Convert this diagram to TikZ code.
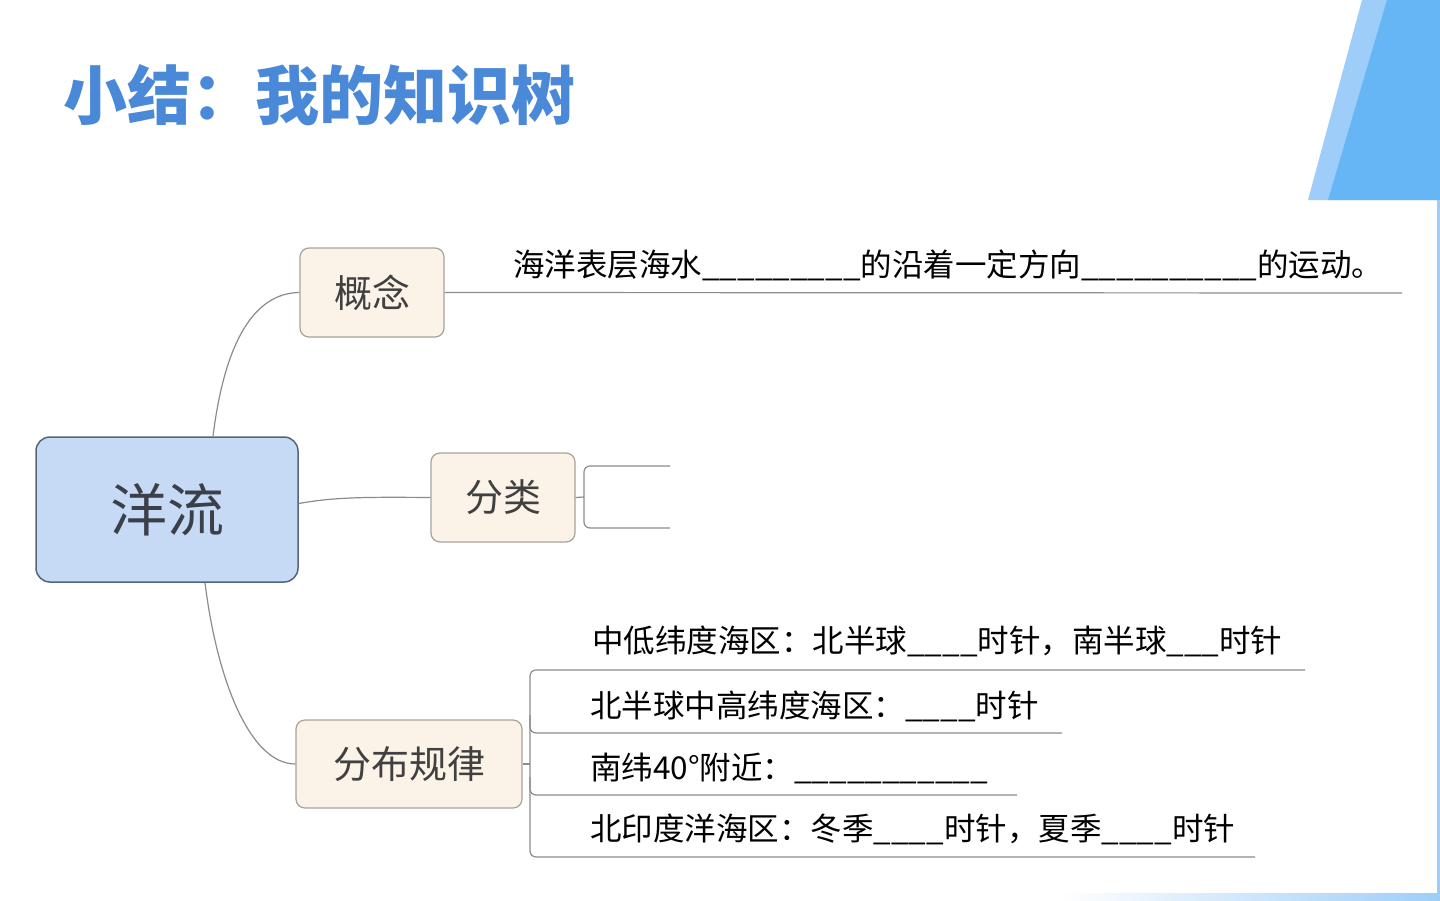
\documentclass[tikz,border=0pt]{standalone}
\usepackage{fontspec}
\setmainfont{Noto Sans CJK SC}
\usetikzlibrary{calc}
\definecolor{titleblue}{HTML}{4A88D8}
\definecolor{bandlight}{HTML}{9DCDF8}
\definecolor{banddark}{HTML}{66B6F6}
\definecolor{rootfill}{HTML}{C6DAF6}
\definecolor{rootdraw}{HTML}{56647A}
\definecolor{topicfill}{HTML}{FCF3E8}
\definecolor{topicdraw}{HTML}{A8A29A}
\definecolor{linegray}{HTML}{8C8C8C}
\definecolor{roottext}{HTML}{3A3F48}
\definecolor{topictext}{HTML}{404040}
\tikzset{
  rootbox/.style={draw=rootdraw, fill=rootfill, line width=1.5pt, rounded corners=14pt,
    text=roottext, font=\fontsize{57}{60}\selectfont, inner sep=0pt},
  topicbox/.style={draw=topicdraw, fill=topicfill, line width=1.2pt, rounded corners=9pt,
    text=topictext, font=\fontsize{38}{42}\selectfont, inner sep=0pt},
  conn/.style={draw=linegray, line width=1.2pt},
  leaf/.style={anchor=base west, inner sep=0pt, text=black, font=\fontsize{31.5}{34}\selectfont},
  titletext/.style={anchor=base west, inner sep=0pt, text=titleblue, font=\fontsize{64}{68}\selectfont\bfseries}
}
\begin{document}
\begin{tikzpicture}[x=1pt,y=-1pt]
\useasboundingbox (0,0) rectangle (1440,900);
\fill[white] (0,0) rectangle (1440,900);
% decoration
\fill[bandlight] (1362,0) -- (1440,0) -- (1440,200) -- (1308,200) -- cycle;
\fill[banddark] (1387,0) -- (1440,0) -- (1440,200) -- (1328,200) -- cycle;
\fill[bandlight] (1437,200) rectangle (1440,900);
\shade[left color=white, right color=bandlight] (1060,893) rectangle (1440,900);
% title
\node[titletext] (title) at (63,119) {小结：我的知识树};
% nodes
\node[rootbox, minimum width=262pt, minimum height=145pt] (root) at (167,509.5) {洋流};
\node[topicbox, minimum width=144pt, minimum height=89pt] (concept) at (372,292.5) {概念};
\node[topicbox, minimum width=144pt, minimum height=89pt] (classify) at (503,497.5) {分类};
\node[topicbox, minimum width=226pt, minimum height=88pt] (distrib) at (409,764) {分布规律};
% connectors from root
\draw[conn] ($(root.north)+(46,0)$) .. controls (225,340) and (255,293) .. (concept.west);
\draw[conn] ($(root.east)+(0,-6)$) .. controls (335,497) and (365,497) .. (classify.west);
\draw[conn] ($(root.south)+(38,0)$) .. controls (217,680) and (250,764) .. (distrib.west);
% concept branch
\coordinate (cEnd) at (1402,293);
\draw[conn] (concept.east) -- (cEnd);
\node[leaf] (cText) at (513,276) {海洋表层海水\_\_\_\_\_\_\_\_\_的沿着一定方向\_\_\_\_\_\_\_\_\_\_的运动。};
% classify bracket
\coordinate (kJ) at (584,497);
\coordinate (kTop) at (670,466);
\coordinate (kBot) at (670,528);
\draw[conn] (classify.east) -- (kJ);
\draw[conn, rounded corners=6pt] (kTop) -- (584,466) -- (584,528) -- (kBot);
% distribution bracket
\coordinate (dJ) at (530,764);
\coordinate (d1) at (1305,670);
\coordinate (d2) at (1062,733);
\coordinate (d3) at (1017,795);
\coordinate (d4) at (1255,857);
\draw[conn] (distrib.east) -- (dJ);
\draw[conn, rounded corners=6pt] (d1) -- (530,670) -- (530,857) -- (d4);
\draw[conn, rounded corners=6pt] (530,715) -- (530,733) -- (d2);
\draw[conn, rounded corners=6pt] (530,777) -- (530,795) -- (d3);
\node[leaf] (t1) at (592,652) {中低纬度海区：北半球\_\_\_\_时针，南半球\_\_\_时针};
\node[leaf] (t2) at (590,717) {北半球中高纬度海区：\_\_\_\_时针};
\node[leaf] (t3) at (590,779) {南纬40°附近：\_\_\_\_\_\_\_\_\_\_\_};
\node[leaf] (t4) at (590,840) {北印度洋海区：冬季\_\_\_\_时针，夏季\_\_\_\_时针};
\end{tikzpicture}
\end{document}
